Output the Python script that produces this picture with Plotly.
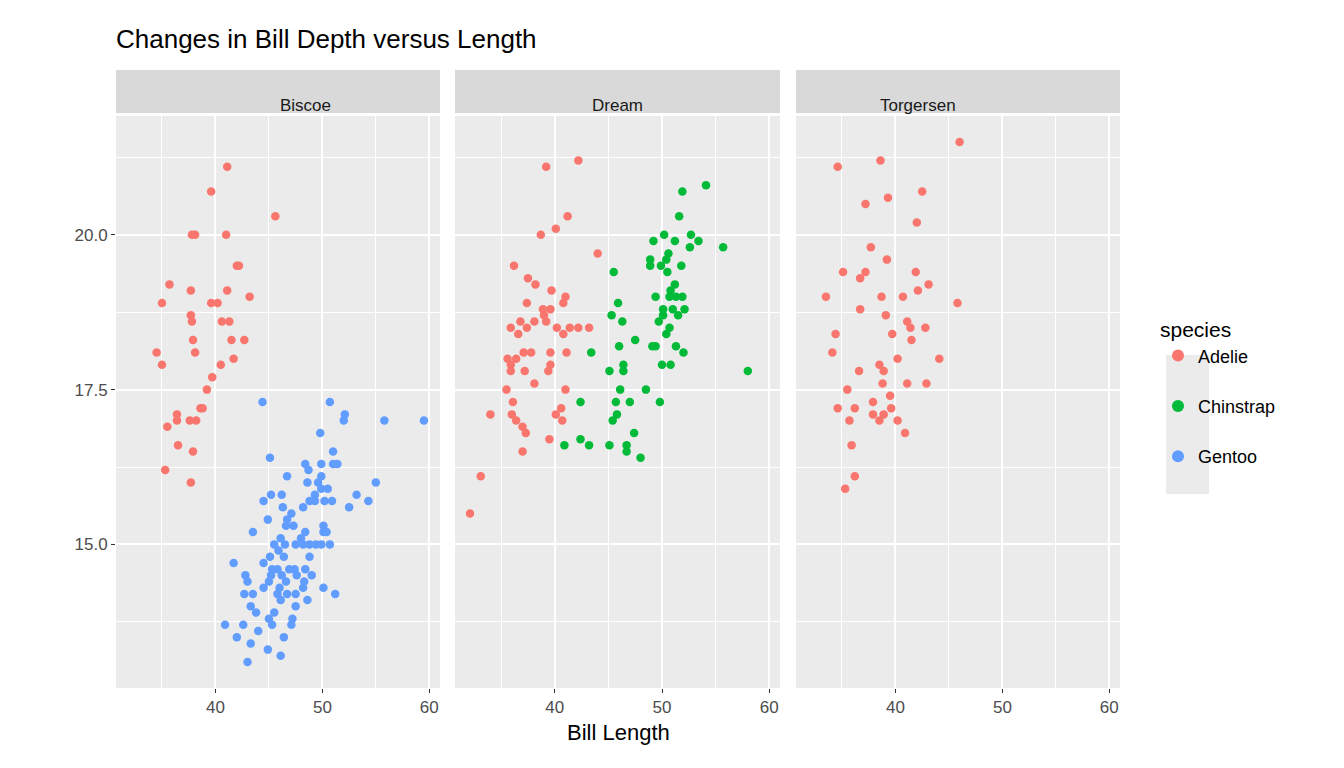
import plotly.graph_objects as go

islands = ["Biscoe", "Dream", "Torgersen"]
species = ["Adelie", "Chinstrap", "Gentoo"]
colors = {"Adelie": "#F8766D", "Chinstrap": "#00BA38", "Gentoo": "#619CFF"}

biscoe_adelie_len = [41.1,39.6,45.6,37.8,38.1,41.0,42.0,42.2,35.7,37.7,41.1,35.0,39.6,40.2,43.2,37.7,40.6,41.3,37.8,34.5,38.1,37.9,42.7,41.5,41.7,35.0,40.5,39.7,39.2,38.6,38.8,36.4,38.2,37.6,35.5,36.5,37.9,35.3,37.7,36.4]
biscoe_adelie_dep = [21.1,20.7,20.3,20.0,20.0,20.0,19.5,19.5,19.2,19.1,19.1,18.9,18.9,18.9,19.0,18.7,18.6,18.6,18.6,18.1,18.1,18.3,18.3,18.3,18.0,17.9,17.9,17.7,17.5,17.2,17.2,17.1,17.0,17.0,16.9,16.6,16.5,16.2,16.0,17.0]
biscoe_gentoo_len = [44.4,50.7,52.1,52.0,55.8,59.5,49.8,51.0,45.1,48.4,49.9,51.0,51.4,48.7,46.7,49.9,48.6,49.6,55.0,49.9,50.5,45.2,46.2,49.3,53.2,44.5,48.8,49.3,50.2,50.9,54.3,46.3,48.2,52.5,47.1,44.9,46.7,46.6,47.3,50.1,43.5,48.4,50.1,50.4,48.0,46.1,45.5,46.5,47.5,48.2,48.8,49.4,49.9,50.7,45.9,46.4,45.1,48.8,41.7,44.5,45.3,45.8,46.9,47.4,48.4,42.8,45.2,46.2,47.6,49.0,43.0,45.0,46.6,48.3,44.5,46.0,48.2,50.1,42.7,43.5,45.8,46.7,47.5,51.2,46.1,48.6,43.3,47.5,43.8,45.5,45.0,47.2,40.9,42.6,45.3,47.1,44.0,42.0,46.4,43.3,44.9,46.1,43.0]
biscoe_gentoo_dep = [17.3,17.3,17.1,17.0,17.0,17.0,16.8,16.5,16.4,16.3,16.3,16.3,16.3,16.2,16.1,16.1,16.0,16.0,16.0,15.9,15.9,15.8,15.8,15.8,15.8,15.7,15.7,15.7,15.7,15.7,15.7,15.6,15.6,15.6,15.5,15.4,15.4,15.3,15.3,15.3,15.2,15.2,15.2,15.2,15.1,15.1,15.0,15.0,15.0,15.0,15.0,15.0,15.0,15.0,14.9,14.8,14.8,14.8,14.7,14.7,14.6,14.6,14.6,14.6,14.6,14.5,14.5,14.5,14.5,14.5,14.4,14.4,14.4,14.4,14.3,14.3,14.3,14.3,14.2,14.2,14.2,14.2,14.2,14.2,14.1,14.1,14.0,14.0,13.9,13.9,13.8,13.8,13.7,13.7,13.7,13.7,13.6,13.5,13.5,13.4,13.3,13.2,13.1]
dream_adelie_len = [42.2,39.2,41.2,40.1,38.7,44.0,36.2,37.5,38.2,39.7,41.0,40.8,37.4,38.9,39.6,39.0,39.2,36.8,38.1,35.9,37.4,40.2,41.4,42.2,43.2,36.6,40.8,37.1,37.8,39.6,41.1,35.6,36.4,35.9,39.6,35.9,37.2,39.4,38.1,35.5,41.0,36.1,34.0,36.0,40.6,40.1,40.7,36.4,37.0,37.3,39.5,37.0,33.1,32.1]
dream_adelie_dep = [21.2,21.1,20.3,20.1,20.0,19.7,19.5,19.3,19.2,19.1,19.0,18.9,18.9,18.8,18.8,18.7,18.6,18.6,18.6,18.5,18.5,18.5,18.5,18.5,18.5,18.4,18.4,18.1,18.1,18.1,18.1,18.0,18.0,17.9,17.9,17.8,17.8,17.8,17.6,17.5,17.5,17.3,17.1,17.1,17.2,17.1,17.0,17.0,16.9,16.8,16.7,16.5,16.1,15.5]
dream_chinstrap_len = [54.1,51.9,51.6,50.2,49.2,51.2,52.7,53.4,52.6,55.7,50.6,48.9,50.4,48.9,49.9,51.8,50.5,45.5,51.2,50.8,49.4,50.7,51.3,51.9,45.9,50.1,51.0,52.1,45.3,50.1,51.5,46.3,49.7,50.7,50.4,47.5,46.0,49.1,49.4,51.3,52.0,43.4,46.4,50.0,50.8,45.1,46.4,58.0,46.1,48.5,42.4,45.7,47.0,49.8,45.8,45.4,47.4,40.9,42.4,43.2,45.1,46.7,46.7,48.0]
dream_chinstrap_dep = [20.8,20.7,20.3,20.0,19.9,19.9,20.0,19.9,19.8,19.8,19.7,19.6,19.6,19.5,19.5,19.5,19.4,19.4,19.2,19.1,19.0,19.0,19.0,19.0,18.9,18.8,18.8,18.8,18.7,18.7,18.7,18.6,18.6,18.5,18.4,18.3,18.2,18.2,18.2,18.2,18.1,18.1,17.9,17.9,17.9,17.8,17.8,17.8,17.5,17.5,17.3,17.3,17.3,17.3,17.1,17.0,16.8,16.6,16.7,16.6,16.6,16.6,16.5,16.4]
torgersen_adelie_len = [46.0,38.6,34.6,42.5,39.3,37.2,42.0,37.7,39.2,35.1,37.2,36.7,41.9,43.1,42.1,33.5,38.7,40.7,45.8,36.7,39.1,41.1,41.4,42.8,34.4,39.7,41.5,34.1,40.2,44.1,38.5,38.9,36.6,38.8,41.1,42.9,35.5,39.5,34.6,36.2,37.9,39.6,37.9,38.9,38.5,35.7,40.2,40.9,35.9,36.2,35.3]
torgersen_adelie_dep = [21.5,21.2,21.1,20.7,20.6,20.5,20.2,19.8,19.6,19.4,19.4,19.3,19.4,19.2,19.1,19.0,19.0,19.0,18.9,18.8,18.7,18.6,18.5,18.5,18.4,18.4,18.3,18.1,18.0,18.0,17.9,17.8,17.8,17.6,17.6,17.6,17.5,17.4,17.2,17.2,17.3,17.2,17.1,17.1,17.0,17.0,17.0,16.8,16.6,16.1,15.9]

data = [
    ("Biscoe", "Adelie", biscoe_adelie_len, biscoe_adelie_dep),
    ("Biscoe", "Gentoo", biscoe_gentoo_len, biscoe_gentoo_dep),
    ("Dream", "Adelie", dream_adelie_len, dream_adelie_dep),
    ("Dream", "Chinstrap", dream_chinstrap_len, dream_chinstrap_dep),
    ("Torgersen", "Adelie", torgersen_adelie_len, torgersen_adelie_dep),
]

W, H = 1344, 768
def px(a): return a / W
def py(b): return 1 - b / H

xdoms = [(108, 432), (447, 772), (788, 1112)]
fig = go.Figure()
shown = set()
for island, sp, xs, ys in data:
    i = islands.index(island)
    suf = "" if i == 0 else str(i + 1)
    fig.add_trace(go.Scatter(
        x=xs, y=ys, mode="markers", name=sp, legendgroup=sp,
        showlegend=sp not in shown,
        marker=dict(color=colors[sp], size=8.5),
        xaxis="x" + suf, yaxis="y" + suf))
    shown.add(sp)
fig.data = tuple(sorted(fig.data, key=lambda t: (not t.showlegend, species.index(t.name))))

ydom = [py(680), py(108)]
axfont = dict(family="Liberation Sans, Arial", size=17, color="#4d4d4d")
layout = dict(
    width=W, height=H, margin=dict(l=0, r=0, t=0, b=0, autoexpand=False),
    paper_bgcolor="white", plot_bgcolor="#ebebeb",
    font=dict(family="Liberation Sans, Arial", color="black"),
    title=dict(text="Changes in Bill Depth versus Length", x=px(108), xanchor="left",
               y=py(31), yanchor="middle", font=dict(size=26, color="black")),
    showlegend=True,
    legend=dict(x=px(1150), y=py(302), xanchor="left", yanchor="top",
                title=dict(text="species", font=dict(size=21)),
                font=dict(size=18), tracegroupgap=24, itemsizing="constant",
                bgcolor="rgba(0,0,0,0)"),
)
shapes, annots = [], []
for i, (a, b) in enumerate(xdoms):
    suf = "" if i == 0 else str(i + 1)
    layout["xaxis" + suf] = dict(
        domain=[px(a), px(b)], range=[30.7, 61.0], anchor="y" + suf,
        tick0=0, dtick=10, showgrid=True, gridcolor="white", gridwidth=1.6,
        minor=dict(dtick=5, showgrid=True, gridcolor="white", gridwidth=0.7),
        ticks="outside", ticklen=4, tickcolor="#333333", tickfont=axfont,
        zeroline=False, showline=False)
    layout["yaxis" + suf] = dict(
        domain=ydom, range=[12.68, 21.92], anchor="x" + suf,
        tick0=0, dtick=2.5, tickformat=".1f",
        showgrid=True, gridcolor="white", gridwidth=1.6,
        minor=dict(dtick=1.25, showgrid=True, gridcolor="white", gridwidth=0.7),
        ticks="outside" if i == 0 else "", ticklen=4, tickcolor="#333333",
        tickfont=axfont, showticklabels=(i == 0), zeroline=False, showline=False)
    shapes.append(dict(type="rect", xref="paper", yref="paper", x0=px(a), x1=px(b),
                       y0=py(105), y1=py(62), fillcolor="#d9d9d9", line=dict(width=0), layer="below"))
    annots.append(dict(text=islands[i], xref="paper", yref="paper", x=px((a + b) / 2), y=py(86),
                       showarrow=False, font=dict(size=17, color="#1a1a1a")))
annots.append(dict(text="Bill Length", xref="paper", yref="paper", x=px(610), y=py(739),
                   showarrow=False, font=dict(size=22, color="black")))
shapes.append(dict(type="rect", xref="paper", yref="paper", x0=px(1158), x1=px(1201),
                   y0=py(486), y1=py(347), fillcolor="#ebebeb", line=dict(width=0), layer="below"))
layout["shapes"] = shapes
layout["annotations"] = annots
fig.update_layout(**layout)
fig.write_html("out.html")
